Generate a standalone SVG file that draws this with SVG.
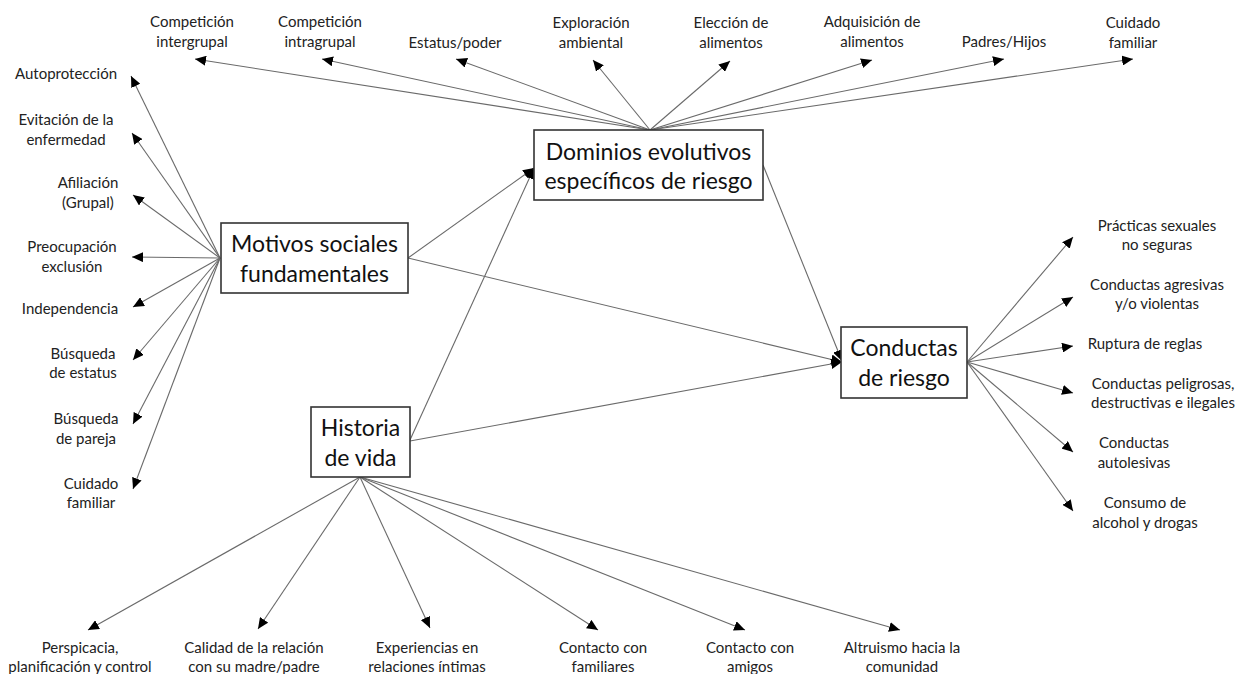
<svg xmlns="http://www.w3.org/2000/svg" width="1250" height="674" viewBox="0 0 1250 674">
<defs>
<marker id="ah" markerUnits="userSpaceOnUse" markerWidth="12" markerHeight="10" refX="11" refY="5" orient="auto">
<path d="M0,0 L11,5 L0,10 Z" fill="#000"/>
</marker>
<style>
.c line{stroke:#6a6a6a;stroke-width:1.1;marker-end:url(#ah)}
.box{fill:#fff;stroke:#333;stroke-width:1.6}
.bt{font-family:Lato,"Liberation Sans",sans-serif;font-size:23px;fill:#111;text-anchor:middle}
.lb{font-family:Lato,"Liberation Sans",sans-serif;font-size:15px;fill:#222;text-anchor:middle}
</style>
</defs>
<rect width="1250" height="674" fill="#fff"/>
<g id="connectors" class="c">
<line x1="650" y1="130" x2="195" y2="59"/>
<line x1="650" y1="130" x2="322" y2="59"/>
<line x1="650" y1="130" x2="456" y2="59"/>
<line x1="650" y1="130" x2="593" y2="60"/>
<line x1="650" y1="130" x2="730" y2="61"/>
<line x1="650" y1="130" x2="872" y2="60"/>
<line x1="650" y1="130" x2="1004" y2="59"/>
<line x1="650" y1="130" x2="1133" y2="59"/>
<line x1="220" y1="258" x2="131" y2="76"/>
<line x1="220" y1="258" x2="132" y2="133"/>
<line x1="220" y1="258" x2="133" y2="195"/>
<line x1="220" y1="258" x2="132" y2="257"/>
<line x1="220" y1="258" x2="133" y2="307"/>
<line x1="220" y1="258" x2="133" y2="360"/>
<line x1="220" y1="258" x2="133" y2="424"/>
<line x1="220" y1="258" x2="133" y2="489"/>
<line x1="408" y1="258" x2="534" y2="168"/>
<line x1="410" y1="440" x2="534" y2="168"/>
<line x1="408" y1="258" x2="842" y2="362"/>
<line x1="410" y1="441" x2="842" y2="362"/>
<line x1="763" y1="165" x2="842" y2="361"/>
<line x1="967" y1="362" x2="1073" y2="237"/>
<line x1="967" y1="362" x2="1073" y2="297"/>
<line x1="967" y1="362" x2="1073" y2="346"/>
<line x1="967" y1="362" x2="1073" y2="393"/>
<line x1="967" y1="362" x2="1073" y2="452"/>
<line x1="967" y1="362" x2="1073" y2="511"/>
<line x1="360" y1="477" x2="88" y2="630"/>
<line x1="360" y1="477" x2="258" y2="629"/>
<line x1="360" y1="477" x2="430" y2="628"/>
<line x1="360" y1="477" x2="598" y2="630"/>
<line x1="360" y1="477" x2="745" y2="630"/>
<line x1="360" y1="477" x2="900" y2="630"/>
</g>
<g id="motivos"><rect class="box" x="221" y="223" width="187" height="70"/><text class="bt" x="314.5" y="252">Motivos sociales</text><text class="bt" x="314.5" y="282">fundamentales</text></g>
<g id="dominios"><rect class="box" x="534" y="130" width="229" height="70"/><text class="bt" x="648.5" y="160">Dominios evolutivos</text><text class="bt" x="648.5" y="189">específicos de riesgo</text></g>
<g id="historia"><rect class="box" x="311" y="407" width="99" height="70"/><text class="bt" x="360.5" y="436">Historia</text><text class="bt" x="360.5" y="466">de vida</text></g>
<g id="conductas"><rect class="box" x="841" y="327" width="126" height="71"/><text class="bt" x="904" y="356">Conductas</text><text class="bt" x="904" y="386">de riesgo</text></g>
<g id="t-intergrupal"><text class="lb" x="192" y="27">Competición</text><text class="lb" x="192" y="47">intergrupal</text></g>
<g id="t-intragrupal"><text class="lb" x="320" y="27">Competición</text><text class="lb" x="320" y="47">intragrupal</text></g>
<g id="t-estatus"><text class="lb" x="455" y="48">Estatus/poder</text></g>
<g id="t-exploracion"><text class="lb" x="591" y="28">Exploración</text><text class="lb" x="591" y="48">ambiental</text></g>
<g id="t-eleccion"><text class="lb" x="731" y="28">Elección de</text><text class="lb" x="731" y="48">alimentos</text></g>
<g id="t-adquisicion"><text class="lb" x="872" y="27">Adquisición de</text><text class="lb" x="872" y="47">alimentos</text></g>
<g id="t-padres"><text class="lb" x="1004" y="47">Padres/Hijos</text></g>
<g id="t-cuidado-top"><text class="lb" x="1133" y="28">Cuidado</text><text class="lb" x="1133" y="48">familiar</text></g>
<g id="t-autoproteccion"><text class="lb" x="66" y="79">Autoprotección</text></g>
<g id="t-evitacion"><text class="lb" x="66" y="125">Evitación de la</text><text class="lb" x="66" y="145">enfermedad</text></g>
<g id="t-afiliacion"><text class="lb" x="88" y="188">Afiliación</text><text class="lb" x="88" y="208">(Grupal)</text></g>
<g id="t-preocupacion"><text class="lb" x="72" y="252">Preocupación</text><text class="lb" x="72" y="272">exclusión</text></g>
<g id="t-independencia"><text class="lb" x="70" y="314">Independencia</text></g>
<g id="t-busq-estatus"><text class="lb" x="83" y="359">Búsqueda</text><text class="lb" x="83" y="378">de estatus</text></g>
<g id="t-busq-pareja"><text class="lb" x="86" y="424">Búsqueda</text><text class="lb" x="86" y="444">de pareja</text></g>
<g id="t-cuidado-left"><text class="lb" x="91" y="489">Cuidado</text><text class="lb" x="91" y="508">familiar</text></g>
<g id="t-practicas"><text class="lb" x="1157" y="231">Prácticas sexuales</text><text class="lb" x="1157" y="250">no seguras</text></g>
<g id="t-agresivas"><text class="lb" x="1157" y="290">Conductas agresivas</text><text class="lb" x="1157" y="309">y/o violentas</text></g>
<g id="t-ruptura"><text class="lb" x="1145" y="349">Ruptura de reglas</text></g>
<g id="t-peligrosas"><text class="lb" x="1163" y="389">Conductas peligrosas,</text><text class="lb" x="1163" y="408">destructivas e ilegales</text></g>
<g id="t-autolesivas"><text class="lb" x="1134" y="448">Conductas</text><text class="lb" x="1134" y="468">autolesivas</text></g>
<g id="t-consumo"><text class="lb" x="1145" y="508">Consumo de</text><text class="lb" x="1145" y="528">alcohol y drogas</text></g>
<g id="t-perspicacia"><text class="lb" x="80" y="653">Perspicacia,</text><text class="lb" x="80" y="672">planificación y control</text></g>
<g id="t-calidad"><text class="lb" x="254" y="653">Calidad de la relación</text><text class="lb" x="254" y="672">con su madre/padre</text></g>
<g id="t-experiencias"><text class="lb" x="427" y="653">Experiencias en</text><text class="lb" x="427" y="672">relaciones íntimas</text></g>
<g id="t-familiares"><text class="lb" x="603" y="653">Contacto con</text><text class="lb" x="603" y="672">familiares</text></g>
<g id="t-amigos"><text class="lb" x="750" y="653">Contacto con</text><text class="lb" x="750" y="672">amigos</text></g>
<g id="t-altruismo"><text class="lb" x="902" y="653">Altruismo hacia la</text><text class="lb" x="902" y="672">comunidad</text></g>
</svg>
